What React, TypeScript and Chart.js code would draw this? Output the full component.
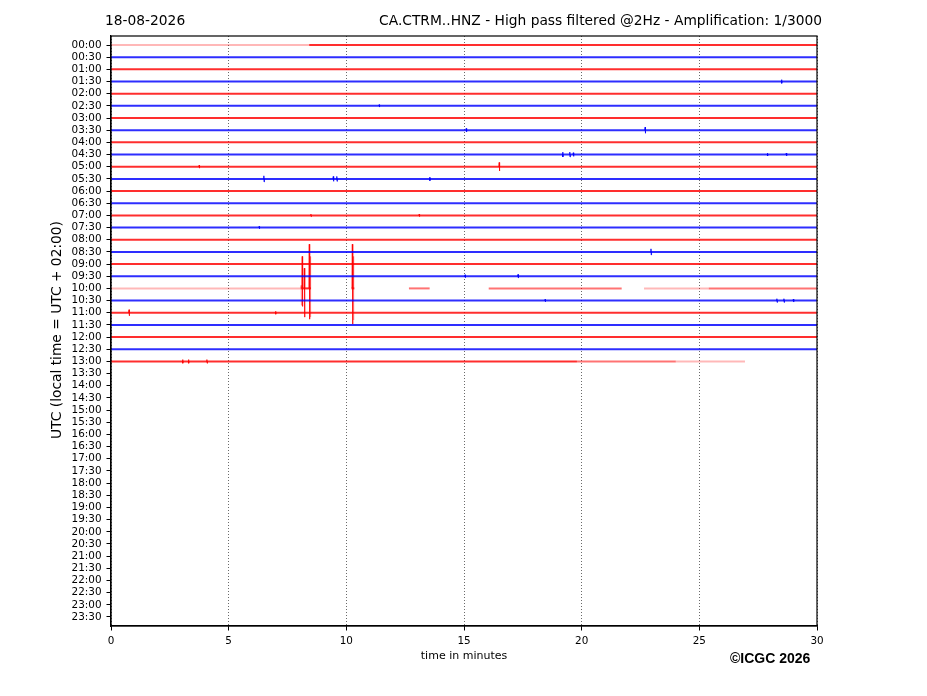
import React, { useEffect, useRef } from 'react';
import { Chart, registerables } from 'chart.js';
Chart.register(...registerables);

const rowLabels = [
  '00:00','00:30','01:00','01:30','02:00','02:30','03:00','03:30',
  '04:00','04:30','05:00','05:30','06:00','06:30','07:00','07:30',
  '08:00','08:30','09:00','09:30','10:00','10:30','11:00','11:30',
  '12:00','12:30','13:00','13:30','14:00','14:30','15:00','15:30',
  '16:00','16:30','17:00','17:30','18:00','18:30','19:00','19:30',
  '20:00','20:30','21:00','21:30','22:00','22:30','23:00','23:30',
];
const xTicks = [0, 5, 10, 15, 20, 25, 30];

// Continuous trace segments (row index, start minute, end minute, shade 0=full 1=medium 2=light)
const segRow = [0, 0, 1, 2, 3, 4, 5, 6, 7, 8, 9, 10, 11, 12, 13, 14, 15, 16, 17, 18, 19,
  20, 20, 20, 20, 20, 20, 20, 21, 22, 23, 24, 25, 26, 26, 26];
const segStart = [0, 8.42, 0, 0, 0, 0, 0, 0, 0, 0, 0, 0, 0, 0, 0, 0, 0, 0, 0, 0, 0,
  0, 8.08, 10.22, 12.66, 16.05, 22.65, 25.4, 0, 0, 0, 0, 0, 0, 19.8, 24.0];
const segEnd = [8.42, 30, 30, 30, 30, 30, 30, 30, 30, 30, 30, 30, 30, 30, 30, 30, 30, 30, 30, 30, 30,
  8.08, 8.5, 10.34, 13.54, 21.7, 25.4, 30, 30, 30, 30, 30, 30, 19.8, 24.0, 26.94];
const segShade = [2, 0, 0, 0, 0, 0, 0, 0, 0, 0, 0, 0, 0, 0, 0, 0, 0, 0, 0, 0, 0,
  2, 0, 0, 1, 1, 2, 1, 0, 0, 0, 0, 0, 0, 1, 2];

// Seismic events (row index, minute, excursion up / down in row units, shade)
const evRow = [3, 5, 7, 7, 9, 9, 9, 9, 9, 10, 10, 11, 11, 11, 11, 14, 14, 15, 17, 19, 19,
  20, 20, 20, 20, 20, 20, 20, 21, 21, 21, 21, 22, 22, 26, 26, 26];
const evTime = [28.5, 11.4, 15.1, 22.7, 19.2, 19.5, 19.65, 27.9, 28.7, 3.75, 16.5, 6.5, 9.45, 9.6, 13.55, 8.5, 13.1, 6.3, 22.95, 15.05, 17.3,
  8.08, 8.13, 8.22, 8.43, 8.47, 10.26, 10.3, 18.45, 28.3, 28.6, 29.0, 0.77, 7.0, 3.05, 3.3, 4.08];
const evUp = [0.15, 0.1, 0.15, 0.25, 0.2, 0.2, 0.15, 0.12, 0.12, 0.12, 0.35, 0.25, 0.2, 0.2, 0.15, 0.1, 0.1, 0.1, 0.25, 0.12, 0.15,
  0.25, 2.63, 1.66, 3.63, 2.63, 3.63, 2.63, 0.1, 0.15, 0.15, 0.12, 0.25, 0.12, 0.15, 0.15, 0.15];
const evDown = [0.15, 0.1, 0.15, 0.25, 0.2, 0.2, 0.15, 0.12, 0.12, 0.12, 0.35, 0.25, 0.2, 0.2, 0.15, 0.1, 0.1, 0.1, 0.25, 0.12, 0.15,
  1.4, 1.48, 2.36, 2.53, 2.36, 2.93, 2.6, 0.1, 0.15, 0.15, 0.12, 0.25, 0.12, 0.15, 0.15, 0.15];
const evShade = [0, 0, 0, 0, 0, 0, 0, 0, 0, 0, 0, 0, 0, 0, 0, 0, 0, 0, 0, 0, 0,
  2, 0, 0, 0, 2, 0, 2, 0, 0, 0, 0, 0, 0, 0, 0, 0];

const dateTitle = '18-08-2026';
const mainTitle = 'CA.CTRM..HNZ - High pass filtered @2Hz - Amplification: 1/3000';
const yTitle = 'UTC (local time = UTC + 02:00)';
const xTitle = 'time in minutes';
const credit = '©ICGC 2026';

const W = 927;
const H = 696;

function rowColor(row: number, shade: number): string {
  const alpha = shade === 0 ? 0.82 : shade === 1 ? 0.55 : 0.28;
  return row % 2 === 0 ? `rgba(255,0,0,${alpha})` : `rgba(0,0,255,${alpha})`;
}

const textPlugin = {
  id: 'helicorderText',
  afterDraw(chart: any) {
    const ctx = chart.ctx as CanvasRenderingContext2D;
    const a = chart.chartArea;
    ctx.save();
    ctx.strokeStyle = '#000';
    ctx.lineWidth = 1.2;
    ctx.strokeRect(a.left, a.top, a.right - a.left, a.bottom - a.top);

    ctx.fillStyle = '#000';
    ctx.font = '13.8px "DejaVu Sans"';
    ctx.textBaseline = 'alphabetic';
    ctx.textAlign = 'left';
    ctx.fillText(dateTitle, 105, 25);
    ctx.textAlign = 'right';
    ctx.fillText(mainTitle, 822, 25);

    ctx.font = '11px "DejaVu Sans"';
    ctx.textAlign = 'center';
    ctx.textBaseline = 'middle';
    ctx.fillText(xTitle, 464, 656);

    ctx.font = 'bold 14px "Liberation Sans"';
    ctx.textAlign = 'left';
    ctx.textBaseline = 'alphabetic';
    ctx.fillText(credit, 730, 663);

    ctx.translate(57, 330);
    ctx.rotate(-Math.PI / 2);
    ctx.font = '13.8px "DejaVu Sans"';
    ctx.textAlign = 'center';
    ctx.textBaseline = 'middle';
    ctx.fillText(yTitle, 0, 0);
    ctx.restore();
  },
};

export default function App() {
  const ref = useRef<HTMLCanvasElement | null>(null);
  useEffect(() => {
    if (!ref.current) return;
    const datasets: any[] = [];
    segRow.forEach((row, i) => {
      datasets.push({
        data: [{ x: segStart[i], y: row }, { x: segEnd[i], y: row }],
        borderColor: rowColor(row, segShade[i]),
        borderWidth: 2,
        pointRadius: 0,
        tension: 0,
      });
    });
    evRow.forEach((row, i) => {
      const t = evTime[i];
      datasets.push({
        data: [
          { x: t - 0.02, y: row },
          { x: t - 0.005, y: row - evUp[i] },
          { x: t + 0.005, y: row + evDown[i] },
          { x: t + 0.02, y: row },
        ],
        borderColor: rowColor(row, evShade[i]),
        borderWidth: 1,
        pointRadius: 0,
        tension: 0,
      });
    });

    const chart = new Chart(ref.current, {
      type: 'line',
      data: { datasets },
      plugins: [textPlugin],
      options: {
        animation: false,
        responsive: false,
        devicePixelRatio: 1,
        parsing: false,
        layout: { padding: { left: 0, right: 110, top: 36, bottom: 0 } },
        plugins: { legend: { display: false }, tooltip: { enabled: false }, title: { display: false } },
        scales: {
          x: {
            type: 'linear',
            min: 0,
            max: 30,
            afterBuildTicks: (s: any) => { s.ticks = xTicks.map((v) => ({ value: v })); },
            afterFit: (s: any) => { s.height = 70; },
            ticks: {
              color: '#000',
              font: { family: 'DejaVu Sans', size: 10.4 },
              padding: 5,
              maxRotation: 0,
              callback: (v: any) => String(v),
            },
            grid: {
              color: '#444',
              lineWidth: 0.8,
              drawTicks: true,
              tickLength: 4.5,
              tickColor: '#000',
              tickBorderDash: [],
              tickWidth: 1,
            },
            border: { display: true, color: '#000', width: 1.2, dash: [1, 2] },
          },
          y: {
            type: 'linear',
            reverse: true,
            min: -0.74,
            max: 47.74,
            afterBuildTicks: (s: any) => { s.ticks = rowLabels.map((_, i) => ({ value: i })); },
            afterFit: (s: any) => { s.width = 111; },
            ticks: {
              color: '#000',
              font: { family: 'DejaVu Sans', size: 10.4 },
              padding: 5,
              autoSkip: false,
              callback: (v: any) => rowLabels[Math.round(Number(v))] ?? '',
            },
            grid: {
              display: true,
              drawOnChartArea: false,
              drawTicks: true,
              tickLength: 4.5,
              tickColor: '#000',
              tickWidth: 1,
            },
            border: { display: true, color: '#000', width: 1.2 },
          },
        },
      } as any,
    });
    return () => chart.destroy();
  }, []);

  return (
    <div style={{ position: 'absolute', left: 0, top: 0, width: W, height: H, background: '#fff' }}>
      <canvas ref={ref} width={W} height={H} style={{ width: W, height: H, display: 'block' }} />
    </div>
  );
}
